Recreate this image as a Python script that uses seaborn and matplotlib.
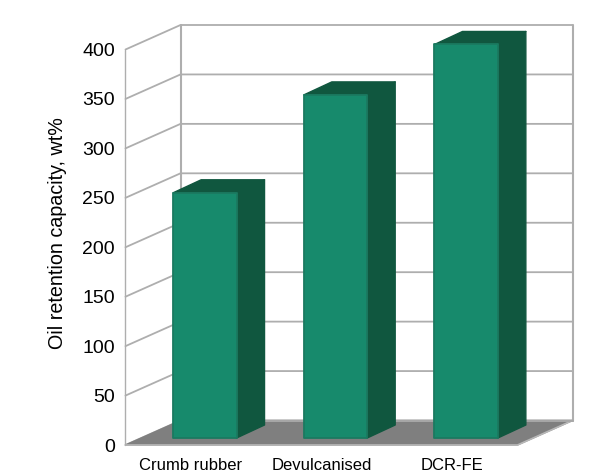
import matplotlib
matplotlib.use("Agg")
import matplotlib.pyplot as plt
import seaborn as sns
from matplotlib.lines import Line2D
from matplotlib.patches import Polygon
from matplotlib.transforms import Affine2D, IdentityTransform
from pandas import DataFrame

categories = ["Crumb rubber", "Devulcanised", "DCR-FE"]
retention = [248, 347, 398]
yticks = [0, 50, 100, 150, 200, 250, 300, 350, 400]

# 3d look, offsets in pixels
WALL = (55, 24.5)
BAR_START = (14, 7)
BAR_DEPTH = (28, 13)

GRID = "#aeaeae"
FLOOR = "#7f7f7f"
FRONT = "#178a6c"
EDGE = "#1b7a60"
SIDE = "#10573f"

sns.set_theme(style="white")
plt.rcParams["font.family"] = ["Liberation Sans", "DejaVu Sans"]

W, H = 606, 476
fig = plt.figure(figsize=(W / 100, H / 100), dpi=100)
ax = fig.add_axes([125.5 / W, 31 / H, 392 / W, 395.5 / H])

df = DataFrame({"material": categories, "retention": retention})
sns.barplot(data=df, x="material", y="retention", color=FRONT, saturation=1,
            width=0.485, ax=ax, zorder=5)
ax.set_xlim(-0.5, 2.5)
ax.set_ylim(0, 400)
ax.patch.set_visible(False)
sns.despine(ax=ax, left=True, bottom=True)


def px(x, y, off=(0, 0)):
    p = ax.transData.transform((x, y))
    return p[0] + off[0], p[1] + off[1]


def add_line(pts, lw=1.3, color=GRID, z=1):
    xs, ys = zip(*pts)
    ax.add_line(Line2D(xs, ys, color=color, lw=lw, transform=IdentityTransform(),
                       clip_on=False, zorder=z))


def add_poly(pts, color, z):
    ax.add_patch(Polygon(pts, closed=True, facecolor=color, edgecolor=color, lw=1.0,
                         joinstyle="round", transform=IdentityTransform(),
                         clip_on=False, zorder=z))


x0, x1 = ax.get_xlim()

# walls and grid
for v in yticks:
    add_line([px(x0, v), px(x0, v, WALL), px(x1, v, WALL)])
add_line([px(x0, 0), px(x0, 400)], lw=1.0)
add_line([px(x0, 0, WALL), px(x0, 400, WALL)], lw=1.5)
add_line([px(x1, 0, WALL), px(x1, 400, WALL)], lw=1.5)

# floor
add_poly([px(x0, 0), px(x1, 0), px(x1, 0, WALL), px(x0, 0, WALL)], FLOOR, 2)
add_line([px(x0, 0), px(x1, 0), px(x1, 0, WALL)], lw=1.2, color="#b8b8b8", z=3)
add_line([px(x0, 0, WALL), px(x1, 0, WALL)], lw=1.4, color="#a8a8a8", z=3)

# bars: shift front faces off the axis plane, add side and top
shift = Affine2D().translate(*BAR_START)
for bar in ax.patches[:len(categories)]:
    bar.set_transform(ax.transData + shift)
    bar.set_clip_on(False)
    bar.set_edgecolor(EDGE)
    bar.set_linewidth(1.3)
    bar.set_joinstyle("round")
    left, right, top = bar.get_x(), bar.get_x() + bar.get_width(), bar.get_height()
    back = (BAR_START[0] + BAR_DEPTH[0], BAR_START[1] + BAR_DEPTH[1])
    add_poly([px(right, 0, BAR_START), px(right, 0, back),
              px(right, top, back), px(right, top, BAR_START)], SIDE, 4)
    add_poly([px(left, top, BAR_START), px(right, top, BAR_START),
              px(right, top, back), px(left, top, back)], SIDE, 4)

ax.set_yticks(yticks)
ax.tick_params(axis="y", length=0, pad=7.5, labelsize=14, labelcolor="black")
ax.tick_params(axis="x", length=0, pad=9, labelsize=12, labelcolor="black")
ax.set_xlabel("")
ax.set_ylabel("Oil retention capacity, wt%", fontsize=14.2, color="black")
ax.yaxis.set_label_coords(-0.15, 0.536)

fig.savefig("out.png", dpi=100, facecolor="white")
plt.close(fig)
